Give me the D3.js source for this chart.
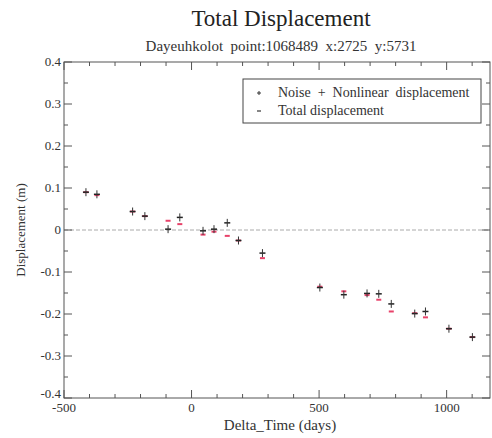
<!DOCTYPE html>
<html lang="en">
<head>
  <meta charset="UTF-8">
  <title>Total Displacement</title>
  <script src="https://d3js.org/d3.v7.min.js"></script>
  <style>
    body {
      margin: 0;
      padding: 0;
      background-color: #fff;
    }
    .frame {
      fill: none;
      stroke: #555;
      stroke-width: 1;
    }
    .tick-line {
      stroke: #555;
      stroke-width: 1;
    }
  </style>
</head>
<body>
<div id="chart"></div>

<script>
// Data
const days = [-414, -371, -231, -183, -92, -46, 45, 88, 140, 184, 278, 503, 597, 688, 734, 783, 875, 917, 1009, 1101];
const noiseNonlinear = [0.090, 0.085, 0.044, 0.033, 0.002, 0.030, -0.002, 0.002, 0.017, -0.025, -0.055, -0.137, -0.154, -0.151, -0.152, -0.176, -0.199, -0.194, -0.235, -0.255];
const totalDisp = [0.090, 0.083, 0.044, 0.033, 0.022, 0.014, -0.011, -0.004, -0.014, -0.025, -0.067, -0.135, -0.146, -0.155, -0.166, -0.194, -0.198, -0.208, -0.235, -0.255];

const xMajorTicks = [-500, 0, 500, 1000];
const xMinorTicks = d3.range(-400, 1200, 100).filter(d => d % 500 !== 0);
const yMajorTicks = [-0.4, -0.3, -0.2, -0.1, 0, 0.1, 0.2, 0.3, 0.4];
const yMinorTicks = [-0.35, -0.25, -0.15, -0.05, 0.05, 0.15, 0.25, 0.35];
const yTickLabels = ["-0.4", "-0.3", "-0.2", "-0.1", "0", "0.1", "0.2", "0.3", "0.4"];

const legendItems = ["Noise + Nonlinear displacement", "Total displacement"];

const W = 492, H = 438;
const plot = { left: 64, right: 490, top: 62, bottom: 398 };
const serif = "'Liberation Serif', 'Times New Roman', serif";

const svg = d3.select("#chart").append("svg")
    .attr("width", W)
    .attr("height", H);

const x = d3.scaleLinear().domain([-500, 1170]).range([plot.left, plot.right]);
const y = d3.scaleLinear().domain([-0.4, 0.4]).range([plot.bottom, plot.top]);

function label(sel) {
  return sel.style("font-family", serif).attr("fill", "#333");
}

// Titles
label(svg.append("text"))
    .attr("x", 281).attr("y", 26)
    .attr("text-anchor", "middle")
    .attr("font-size", 23)
    .attr("fill", "#222")
    .text("Total Displacement");

label(svg.append("text"))
    .attr("x", 281).attr("y", 51)
    .attr("text-anchor", "middle")
    .attr("font-size", 15)
    .style("white-space", "pre")
    .text("Dayeuhkolot  point:1068489  x:2725  y:5731");

// zero line (dashed)
svg.append("line")
    .attr("x1", plot.left).attr("x2", plot.right)
    .attr("y1", y(0)).attr("y2", y(0))
    .attr("stroke", "#aaa")
    .attr("stroke-width", 1)
    .attr("stroke-dasharray", "4,2");

// frame
svg.append("rect")
    .attr("class", "frame")
    .attr("x", plot.left).attr("y", plot.top)
    .attr("width", plot.right - plot.left).attr("height", plot.bottom - plot.top);

// x ticks (bottom and top, inward)
const ticksX = svg.append("g");
xMajorTicks.forEach(d => {
  ticksX.append("line").attr("class", "tick-line")
      .attr("x1", x(d)).attr("x2", x(d)).attr("y1", plot.bottom).attr("y2", plot.bottom - 8);
  ticksX.append("line").attr("class", "tick-line")
      .attr("x1", x(d)).attr("x2", x(d)).attr("y1", plot.top).attr("y2", plot.top + 8);
});
xMinorTicks.forEach(d => {
  ticksX.append("line").attr("class", "tick-line")
      .attr("x1", x(d)).attr("x2", x(d)).attr("y1", plot.bottom).attr("y2", plot.bottom - 4);
  ticksX.append("line").attr("class", "tick-line")
      .attr("x1", x(d)).attr("x2", x(d)).attr("y1", plot.top).attr("y2", plot.top + 4);
});
label(ticksX.selectAll("text.xlab")
    .data(xMajorTicks)
    .enter().append("text"))
    .attr("class", "xlab")
    .attr("x", d => x(d))
    .attr("y", plot.bottom + 14)
    .attr("text-anchor", "middle")
    .attr("font-size", 13)
    .text(d => d);

// y ticks (left and right, inward)
const ticksY = svg.append("g");
yMajorTicks.forEach(d => {
  ticksY.append("line").attr("class", "tick-line")
      .attr("x1", plot.left).attr("x2", plot.left + 8).attr("y1", y(d)).attr("y2", y(d));
  ticksY.append("line").attr("class", "tick-line")
      .attr("x1", plot.right).attr("x2", plot.right - 8).attr("y1", y(d)).attr("y2", y(d));
});
yMinorTicks.forEach(d => {
  ticksY.append("line").attr("class", "tick-line")
      .attr("x1", plot.left).attr("x2", plot.left + 4).attr("y1", y(d)).attr("y2", y(d));
  ticksY.append("line").attr("class", "tick-line")
      .attr("x1", plot.right).attr("x2", plot.right - 4).attr("y1", y(d)).attr("y2", y(d));
});
label(ticksY.selectAll("text.ylab")
    .data(yMajorTicks)
    .enter().append("text"))
    .attr("class", "ylab")
    .attr("x", plot.left - 3)
    .attr("y", (d, i) => y(d) + (i === 0 ? 0 : 4))
    .attr("text-anchor", "end")
    .attr("font-size", 13)
    .text((d, i) => yTickLabels[i]);

// axis titles
label(svg.append("text"))
    .attr("x", 280).attr("y", 430)
    .attr("text-anchor", "middle")
    .attr("font-size", 15)
    .text("Delta_Time (days)");

label(svg.append("text"))
    .attr("transform", `translate(25,${y(0)}) rotate(-90)`)
    .attr("text-anchor", "middle")
    .attr("font-size", 13)
    .text("Displacement (m)");

// Total displacement: red dashes
const pts = days.map((d, i) => ({ d: d, n: noiseNonlinear[i], t: totalDisp[i] }));

svg.append("g").selectAll("line.tot")
    .data(pts)
    .enter().append("line")
    .attr("class", "tot")
    .attr("x1", p => x(p.d) - 2.5).attr("x2", p => x(p.d) + 2.5)
    .attr("y1", p => y(p.t)).attr("y2", p => y(p.t))
    .attr("stroke", "#e8426a")
    .attr("stroke-width", 2);

// Noise + nonlinear: black plus marks
const plus = svg.append("g").selectAll("g.plus")
    .data(pts)
    .enter().append("g")
    .attr("class", "plus")
    .attr("transform", p => `translate(${x(p.d)},${y(p.n)})`);
plus.append("line")
    .attr("x1", -3).attr("x2", 3).attr("y1", 0).attr("y2", 0)
    .attr("stroke", "#222").attr("stroke-width", 1.5);
plus.append("line")
    .attr("x1", 0).attr("x2", 0).attr("y1", -4).attr("y2", 4)
    .attr("stroke", "#333").attr("stroke-width", 1);

// legend
const lg = svg.append("g");
lg.append("rect")
    .attr("x", 243).attr("y", 79)
    .attr("width", 238).attr("height", 44)
    .attr("fill", "#fff")
    .attr("stroke", "#444")
    .attr("stroke-width", 1);
lg.append("line")
    .attr("x1", 257).attr("x2", 261).attr("y1", 93).attr("y2", 93)
    .attr("stroke", "#333");
lg.append("line")
    .attr("x1", 259).attr("x2", 259).attr("y1", 91).attr("y2", 95)
    .attr("stroke", "#333");
lg.append("line")
    .attr("x1", 257).attr("x2", 261).attr("y1", 111).attr("y2", 111)
    .attr("stroke", "#444").attr("stroke-width", 1.3);
label(lg.selectAll("text")
    .data(legendItems)
    .enter().append("text"))
    .attr("x", 278)
    .attr("y", (d, i) => 97 + i * 18)
    .attr("font-size", 14)
    .style("white-space", "pre")
    .text((d, i) => i === 0 ? "Noise  +  Nonlinear  displacement" : d);
</script>
</body>
</html>
